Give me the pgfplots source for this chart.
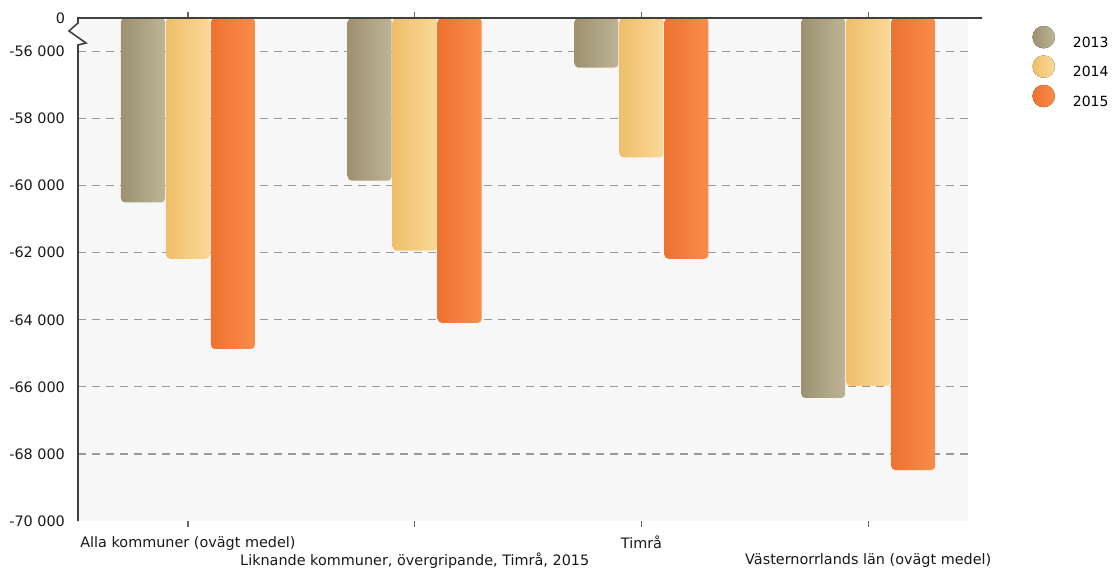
\documentclass[border=0pt]{standalone}
\usepackage{pgfplots}
\pgfplotsset{compat=1.18}
\usepackage{fontspec}
\setmainfont{DejaVu Sans}

\definecolor{cA}{HTML}{9C9270}
\definecolor{cAl}{HTML}{BDB495}
\definecolor{cB}{HTML}{EFBE6A}
\definecolor{cBl}{HTML}{FAD998}
\definecolor{cC}{HTML}{EE7230}
\definecolor{cCl}{HTML}{F98C4A}

\pgfplotsset{
  s13/.style={draw=none, left color=cA, right color=cAl, rounded corners=2pt, bar shift=-22.5pt},
  s14/.style={draw=none, left color=cB, right color=cBl, rounded corners=2pt, bar shift=0pt},
  s15/.style={draw=none, left color=cC, right color=cCl, rounded corners=2pt, bar shift=22.5pt},
}

\begin{document}
\begin{tikzpicture}
\begin{axis}[
  name=main,
  scale only axis,
  width=445pt, height=251.5pt,
  xmin=-0.485, xmax=3.44,
  ymin=-70000, ymax=-55000,
  clip mode=individual,
  axis line style={draw=none},
  axis background/.style={fill=black!3},
  ybar,
  bar width=22pt,
  xtick={0,2},
  xticklabels={Alla kommuner (ovägt medel),Timrå},
  extra x ticks={1,3},
  extra x tick labels={{Liknande kommuner, övergripande, Timrå, 2015},{Västernorrlands län (ovägt medel)}},
  extra x tick style={xticklabel style={yshift=-8.5pt}},
  xticklabel style={font=\fontsize{7.2}{8.5}\selectfont, text=black!90, yshift=-1pt},
  tick align=outside,
  major tick length=3pt,
  xtick style={draw=black!60, line width=0.6pt},
  scaled y ticks=false,
  ytick={-68000,-66000,-64000,-62000,-60000,-58000,-56000},
  yticklabels={-68 000,-66 000,-64 000,-62 000,-60 000,-58 000,-56 000},
  extra y ticks={-70000,-55000},
  extra y tick labels={-70 000,0},
  extra y tick style={grid=none},
  ytick style={draw=none},
  yticklabel style={font=\fontsize{7.2}{8.5}\selectfont, text=black!90},
  ymajorgrids,
  major grid style={black!40, dash pattern=on 4pt off 3pt, line width=0.6pt},
  legend style={at={(1.072,0.985)}, anchor=north west, draw=none, fill=none,
    inner sep=0pt, nodes={inner sep=1pt},
    font=\fontsize{7}{8.5}\selectfont, row sep=1.5pt},
  legend cell align=left,
  legend image code/.code={\fill[#1] (0.35em,0.6ex) circle (5.6pt);},
]
% 2013
\addplot[s13] coordinates {(0,-60500)};
\addplot[s13, forget plot] coordinates {(1,-59850)};
\addplot[s13, forget plot] coordinates {(2,-56480)};
\addplot[s13, forget plot] coordinates {(3,-66330)};
% 2014
\addplot[s14] coordinates {(0,-62180)};
\addplot[s14, forget plot] coordinates {(1,-61940)};
\addplot[s14, forget plot] coordinates {(2,-59160)};
\addplot[s14, forget plot] coordinates {(3,-65970)};
% 2015
\addplot[s15] coordinates {(0,-64870)};
\addplot[s15, forget plot] coordinates {(1,-64090)};
\addplot[s15, forget plot] coordinates {(2,-62180)};
\addplot[s15, forget plot] coordinates {(3,-68480)};
\legend{\hspace{8pt}2013,\hspace{8pt}2014,\hspace{8pt}2015}
\end{axis}
% axis lines with break mark
\draw[black!75, line width=0.8pt] ([xshift=7pt]main.north east) -- (main.north west)
  -- ++(0,-2.5pt) -- ++(-4.5pt,-4pt) -- ++(8.5pt,-6pt) -- ++(-4pt,-1pt)
  -- (main.south west);
\path (main.south west) ++(-39pt,-23.5pt) coordinate (bl);
\path (main.north east) ++(74.5pt,9pt) coordinate (tr);
\path (bl) rectangle (tr);
\end{tikzpicture}
\end{document}
